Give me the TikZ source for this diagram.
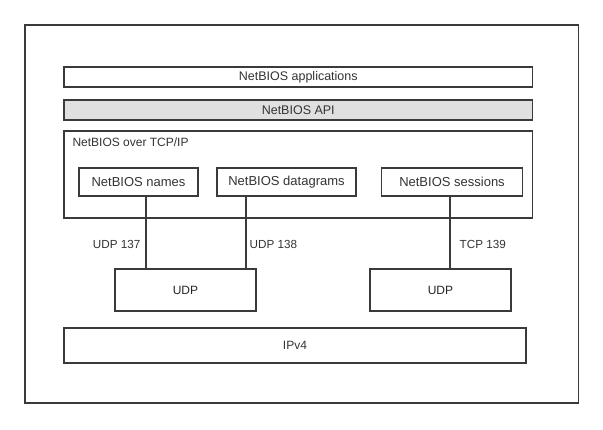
\documentclass[tikz,border=0pt]{standalone}
\usepackage{fontspec}
\setmainfont{Liberation Sans}
\usetikzlibrary{positioning}
\definecolor{framegray}{HTML}{3A3A3A}
\definecolor{textgray}{HTML}{333333}
\definecolor{apigray}{HTML}{E0E0E0}

\begin{document}
\begin{tikzpicture}[
  x=1pt, y=-1pt,
  font=\fontsize{12}{14}\selectfont,
  outer/.style={
    rectangle,
    draw=framegray,
    line width=1.6pt,
    minimum width=553.5pt,
    minimum height=378pt
  },
  layer/.style={
    rectangle,
    draw=framegray,
    line width=1.3pt,
    fill=white,
    text=textgray,
    inner sep=0pt,
    minimum width=468.5pt
  },
  service/.style={
    rectangle,
    draw=framegray,
    line width=1.3pt,
    fill=white,
    text=textgray,
    font=\fontsize{13}{15}\selectfont,
    inner sep=0pt,
    minimum height=28pt
  },
  transport/.style={
    rectangle,
    draw=framegray,
    line width=1.3pt,
    fill=white,
    text=black!85,
    inner sep=0pt,
    minimum width=141pt,
    minimum height=42pt
  },
  link/.style={draw=framegray, line width=1.3pt},
  portlabel/.style={text=textgray, inner sep=0pt, font=\fontsize{11.7}{14}\selectfont}
]

\useasboundingbox (0,0) rectangle (603,429);

\node[outer] (frame) at (301.75,214) {};

% NetBIOS stack
\node[layer, minimum height=20pt, font=\fontsize{12.5}{15}\selectfont] (apps) at (298.25,77) {NetBIOS applications};
\node[layer, minimum height=20pt, fill=apigray, font=\fontsize{12.5}{15}\selectfont] (api) at (298.25,110) {NetBIOS API};
\node[layer, minimum height=87pt] (nbt) at (298.25,174.5) {};
\node[portlabel, anchor=west, font=\fontsize{12}{14}\selectfont] (nbttitle) at ([xshift=9pt,yshift=-12pt]nbt.north west) {NetBIOS over TCP/IP};

\node[service, minimum width=119pt] (names) at (138.5,182) {NetBIOS names};
\node[service, minimum width=139pt] (dgrams) at (286.5,182) {NetBIOS datagrams};
\node[service, minimum width=141pt] (sessions) at (452,182) {NetBIOS sessions};

% transports
\node[transport] (udpa) at (185.5,290) {UDP};
\node[transport] (udpb) at (440.5,290) {UDP};
\node[layer, minimum width=462pt, minimum height=35pt] (ipv4) at (295,345.5) {IPv4};

\draw[link] ([xshift=7.5pt]names.south) -- ([xshift=7.5pt]names.south |- udpa.north)
  node[portlabel, pos=0.67, left=5pt] {UDP 137};
\draw[link] ([xshift=-40.5pt]dgrams.south) -- ([xshift=-40.5pt]dgrams.south |- udpa.north)
  node[portlabel, pos=0.67, right=3pt] {UDP 138};
\draw[link] ([xshift=-2pt]sessions.south) -- ([xshift=-2pt]sessions.south |- udpb.north)
  node[portlabel, pos=0.67, right=9pt] {TCP 139};

\end{tikzpicture}
\end{document}
